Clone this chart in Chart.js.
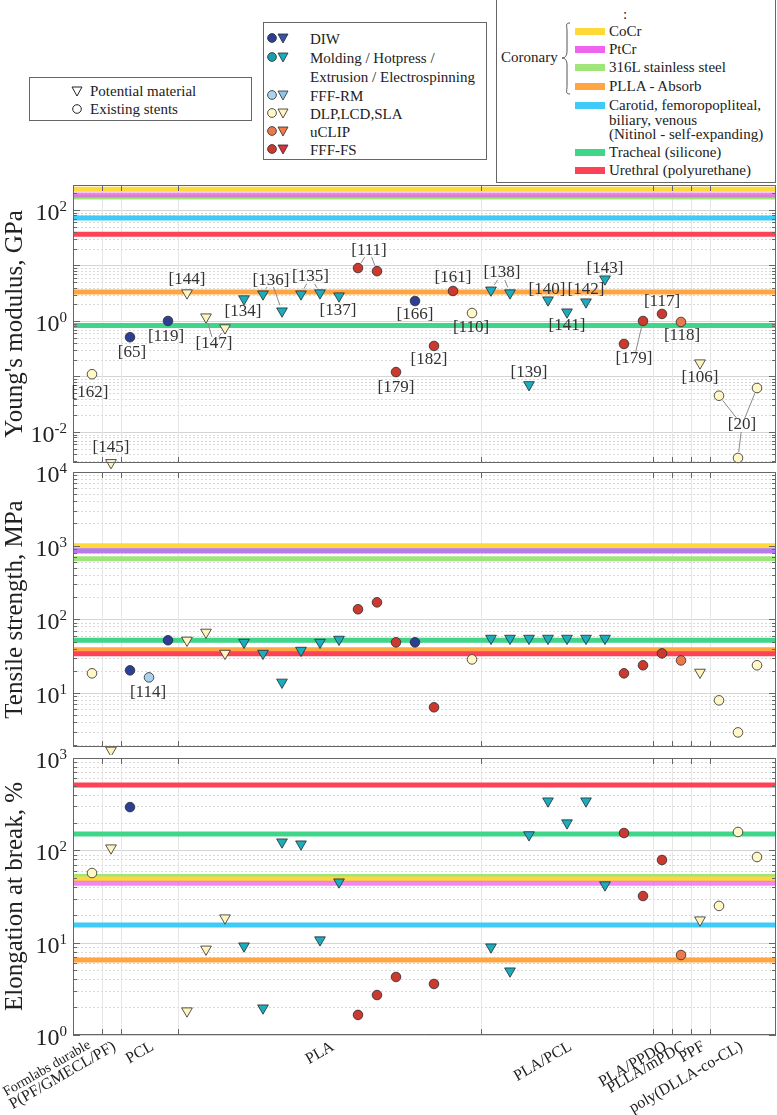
<!DOCTYPE html>
<html>
<head>
<meta charset="utf-8">
<script src="https://cdn.jsdelivr.net/npm/chart.js@4.4.1/dist/chart.umd.min.js"></script>
<style>
body { margin: 0; background: #fff; }
#page { position: relative; width: 777px; height: 1115px; overflow: hidden; font-family: "Liberation Serif", "Times New Roman", serif; color: #222; }
canvas { position: absolute; left: 0; }
.box { position: absolute; border: 1px solid #666; background: #fff; box-sizing: border-box; }
.t { position: absolute; font-size: 15px; line-height: 16px; white-space: nowrap; }
.sw { position: absolute; width: 30px; height: 7px; }
svg { position: absolute; overflow: visible; }
</style>
</head>
<body>
<div id="page">
  <div class="box" style="left:29px;top:77px;width:223px;height:44px"></div>
  <div class="box" style="left:263px;top:22px;width:224px;height:138px"></div>
  <div class="box" style="left:496px;top:-1px;width:280px;height:184px"></div>
  <canvas id="c1"></canvas>
  <canvas id="c2"></canvas>
  <canvas id="c3"></canvas>
</div>
<script>
const serif = '"Liberation Serif", "Times New Roman", serif'

// x categories (material groups) and how many points each holds
const groups = ["Formlabs durable", "P(PF/GMECL/PF)", "PCL", "PLA", "PLA/PCL", "PLA/PPDO", "PLLA/mPDC", "PPF", "poly(DLLA-co-CL)"]
const groupSize = [1, 1, 3, 16, 9, 1, 1, 1, 3]

// one entry per point position
const process = ["DLP", "DLP", "DIW", "FFF-RM", "DIW", "DLP", "DLP", "DLP",
  "Mold", "Mold", "Mold", "Mold", "Mold", "Mold",
  "FFF-FS", "FFF-FS", "FFF-FS", "DIW", "FFF-FS", "FFF-FS", "DLP",
  "Mold", "Mold", "Mold", "Mold", "Mold", "Mold", "Mold",
  "FFF-FS", "FFF-FS", "FFF-FS", "uCLIP", "DLP", "DLP", "DLP", "DLP"]
const shape = ["o", "v", "o", "o", "o", "v", "v", "v",
  "v", "v", "v", "v", "v", "v",
  "o", "o", "o", "o", "o", "o", "o",
  "v", "v", "v", "v", "v", "v", "v",
  "o", "o", "o", "o", "v", "o", "o", "o"]

const youngs = [0.11, 0.0028, 0.51, null, 1.0, 3.2, 1.18, 0.75,
  2.5, 3.06, 1.51, 3.06, 3.2, 2.82,
  9.0, 7.9, 0.12, 2.29, 0.355, 3.47, 1.39,
  3.6, 3.2, 0.071, 2.39, 1.45, 2.2, 5.7,
  0.385, 1.0, 1.34, 0.96, 0.175, 0.045, 0.0034, 0.062]
const tensile = [18.5, 1.67, 20.3, 16.3, 52, 52, 66.7, 34.5,
  48.7, 34.5, 14.0, 37.9, 48.7, 53.5,
  137, 170, 48.7, 48.7, 6.4, null, 28.6,
  55.2, 55.2, 55.2, 55.2, 55.2, 55.2, 55.2,
  18.5, 23.8, 34.5, 27.7, 19.1, 7.95, 2.92, 23.8]
const elongation = [56.8, 106, 294, null, null, 1.82, 8.5, 18.5,
  9.2, 1.96, 123, 117, 10.7, 45.4,
  1.65, 2.71, 4.25, null, 3.57, null, null,
  8.97, 4.93, 147, 342, 198, 342, 42.2,
  154, 32, 78.6, 7.35, 17.6, 25, 158, 84.7]

// reference stents (horizontal bands)
const stents = ["CoCr", "PtCr", "316L stainless steel", "PLLA - Absorb",
  "Carotid, femoropopliteal,\nbiliary, venous\n(Nitinol - self-expanding)", "Tracheal (silicone)", "Urethral (polyurethane)"]
const stentYoungs = [236, 186, 171, 3.33, 72, 0.83, 36.5]
const stentTensile = [1000, 850, 667, 38.8, 850, 52, 34.2]
const stentElong = [49, 44, 52, 6.5, 15.5, 150, 510]
const stentColor = ["#ffd83a", "rgba(236,86,236,0.7)", "#9fe57a", "#ffa541", "#3fcaf7", "#3fd68a", "#fd4256"]
const stentOrder = [15, 14, 19, 17, 20, 18, 16]

const processNames = ["DIW", "Molding / Hotpress /\nExtrusion  / Electrospinning", "FFF-RM", "DLP,LCD,SLA", "uCLIP", "FFF-FS"]
const processKeys = ["DIW", "Mold", "FFF-RM", "DLP", "uCLIP", "FFF-FS"]
const fillCircle = { "DIW": "#2c3f94", "Mold": "#1a9eaa", "FFF-RM": "#a9d2ee", "DLP": "#fff8c6", "uCLIP": "#ea7a4c", "FFF-FS": "#cc3a2f" }
const fillTri = { "DIW": "#3452a8", "Mold": "#1aadbf", "FFF-RM": "#8cc6e9", "DLP": "#fff4bd", "uCLIP": "#f07c48", "FFF-FS": "#dd2f3e" }

// reference labels: text, point indexes, offset from the points, leader lines
const notes1 = [
  ["[162]", [0], -2, 18], ["[145]", [1], 0, -15], ["[65]", [2], 2, 15], ["[119]", [4], -2, 16],
  ["[144]", [5], 0, -13], ["[147]", [6, 7], -1.5, 21.5, true], ["[134]", [8], -1, 13],
  ["[136]", [9, 10], -1.5, -22.5, true], ["[135]", [11, 12], 0, -16.5, true], ["[137]", [13], -1, 15],
  ["[111]", [14, 15], 1.5, -19.5, true], ["[179]", [16], 0, 15], ["[166]", [17], 0, 14],
  ["[182]", [18], -5, 14], ["[161]", [19], 0, -13], ["[110]", [20], -1, 14],
  ["[138]", [21, 22], 1.5, -18.5, true], ["[139]", [23], 0, -12], ["[140]", [24], -1, -10],
  ["[141]", [25], 0, 14], ["[142]", [26], 0, -12], ["[143]", [27], 0, -11],
  ["[179]", [29], -9, 38, true], ["[117]", [30], 0, -12], ["[118]", [31], 1, 14],
  ["[106]", [32], 0, 15], ["[20]", [33, 34, 35], 4, 11, true]
]
const notes2 = [["[114]", [3], -1, 15]]

// group boundaries and centres from the sizes
let boundaries = [], centers = [], start = 0
groupSize.forEach((n, k) => {
  centers.push(start + (n - 1) / 2)
  start += n
  if (k < groupSize.length - 1) boundaries.push(start - 0.5)
})
const xMin = -1, xMax = start

function logTicks(min, max) {
  let out = []
  for (let e = Math.floor(Math.log10(min)); e <= Math.ceil(Math.log10(max)); e++) {
    for (let m = 1; m < 10; m++) {
      let v = m * Math.pow(10, e)
      if (v >= min * 0.999 && v <= max * 1.001) out.push({ value: v })
    }
  }
  return out
}

function isDecade(v) {
  let l = Math.log10(v)
  return Math.abs(l - Math.round(l)) < 1e-6
}

function panelPlugin(p) {
  return {
    id: "panel" + p.id,
    beforeDatasetsDraw(chart) {
      let { ctx, chartArea: a, scales: { x, y } } = chart
      ctx.save()
      ctx.lineWidth = 1
      y.ticks.forEach(t => {
        let py = Math.round(y.getPixelForValue(t.value)) + 0.5
        let major = isDecade(t.value)
        ctx.strokeStyle = major ? "#d4d4d4" : "#d9d9d9"
        ctx.setLineDash(major ? [] : [2, 2])
        ctx.beginPath(); ctx.moveTo(a.left, py); ctx.lineTo(a.right, py); ctx.stroke()
      })
      ctx.setLineDash([])
      ctx.strokeStyle = "#e6e6e6"
      boundaries.forEach(b => {
        let px = Math.round(x.getPixelForValue(b)) + 0.5
        ctx.beginPath(); ctx.moveTo(px, a.top); ctx.lineTo(px, a.bottom); ctx.stroke()
      })
      ctx.restore()
    },
    afterDatasetsDraw(chart) {
      let { ctx, chartArea: a, scales: { x, y } } = chart
      ctx.save()
      ctx.strokeStyle = "#666"
      ctx.lineWidth = 1
      ctx.strokeRect(a.left + 0.5, a.top + 0.5, a.right - a.left - 1, a.bottom - a.top - 1)
      ctx.beginPath()
      y.ticks.forEach(t => {
        let py = Math.round(y.getPixelForValue(t.value)) + 0.5
        let len = isDecade(t.value) ? 7 : 4
        ctx.moveTo(a.left, py); ctx.lineTo(a.left + len, py)
        ctx.moveTo(a.right, py); ctx.lineTo(a.right - len, py)
      })
      boundaries.forEach(b => {
        let px = Math.round(x.getPixelForValue(b)) + 0.5
        ctx.moveTo(px, a.top); ctx.lineTo(px, a.top + 6)
        ctx.moveTo(px, a.bottom); ctx.lineTo(px, a.bottom - 6)
      })
      ctx.stroke()

      // decade labels 10^n
      ctx.fillStyle = "#222"
      ctx.textAlign = "right"
      ctx.textBaseline = "alphabetic"
      y.ticks.forEach(t => {
        if (!isDecade(t.value)) return
        let e = Math.round(Math.log10(t.value))
        if (e % p.labelStep) return
        let py = y.getPixelForValue(t.value)
        let right = a.left - 6
        ctx.font = "15px " + serif
        let ew = ctx.measureText(String(e)).width
        ctx.fillText(String(e), right, py + 1)
        ctx.font = "24px " + serif
        ctx.fillText("10", right - ew, py + 10)
      })

      // group names under the bottom panel, rotated 30 degrees
      if (p.xLabels) {
        ctx.textBaseline = "middle"
        centers.forEach((c, i) => {
          let px = x.getPixelForValue(c)
          ctx.save()
          ctx.translate(px + (i === 0 ? -2.5 : 3.5), a.bottom + (i === 0 ? 9 : 10.5))
          ctx.rotate(-Math.PI / 6)
          ctx.font = (i === 0 ? 14 : 16) + "px " + serif
          ctx.fillText(groups[i], 0, 0)
          ctx.restore()
        })
      }

      // reference labels
      ctx.font = "17px " + serif
      ctx.textAlign = "center"
      ctx.textBaseline = "middle"
      ctx.fillStyle = "#333"
      ctx.strokeStyle = "#8a8a8a"
      p.notes.forEach(n => {
        let pts = n[1].map(i => ({ x: x.getPixelForValue(i), y: y.getPixelForValue(p.values[i]) }))
        let cx = pts.reduce((s, q) => s + q.x, 0) / pts.length + n[2]
        let cy = pts.reduce((s, q) => s + q.y, 0) / pts.length + n[3]
        ctx.fillText(n[0], cx, cy)
        if (!n[4]) return
        let hw = ctx.measureText(n[0]).width / 2 + 1, hh = 7
        pts.forEach(q => {
          let dx = q.x - cx, dy = q.y - cy
          let len = Math.hypot(dx, dy)
          let tt = Math.min(hw / Math.max(Math.abs(dx), 1e-6), hh / Math.max(Math.abs(dy), 1e-6))
          if (len * (1 - tt) < 7) return
          ctx.beginPath()
          ctx.moveTo(cx + dx * tt, cy + dy * tt)
          ctx.lineTo(q.x - dx / len * 6, q.y - dy / len * 6)
          ctx.stroke()
        })
      })
      ctx.restore()
    }
  }
}

function makePanel(p) {
  let cv = document.getElementById(p.id)
  cv.width = 777
  cv.height = p.height
  cv.style.top = p.top + "px"

  let pts = []
  p.values.forEach((v, i) => { if (v !== null) pts.push({ x: i, y: v }) })
  let tri = c => c.raw && shape[c.raw.x] === "v"

  let datasets = [{
    data: pts,
    order: 0,
    clip: false,
    pointStyle: c => tri(c) ? "triangle" : "circle",
    pointRotation: c => tri(c) ? 180 : 0,
    pointRadius: c => tri(c) ? 6.2 : 4.8,
    pointBackgroundColor: c => c.raw ? (tri(c) ? fillTri : fillCircle)[process[c.raw.x]] : "#fff",
    pointBorderColor: "#2a2a2a",
    pointBorderWidth: 0.8
  }]
  p.lines.forEach((v, k) => {
    datasets.push({
      data: [{ x: xMin, y: v }, { x: xMax, y: v }],
      showLine: true,
      borderColor: stentColor[k],
      borderWidth: 5,
      pointRadius: 0,
      order: stentOrder[k]
    })
  })

  new Chart(cv, {
    type: "scatter",
    data: { datasets: datasets },
    options: {
      responsive: false,
      animation: false,
      events: [],
      layout: { autoPadding: false, padding: { top: p.padTop, bottom: p.padBottom, left: 0, right: 1 } },
      plugins: { legend: { display: false }, tooltip: { enabled: false } },
      scales: {
        x: {
          type: "linear",
          min: xMin,
          max: xMax,
          grid: { display: false, drawTicks: false },
          border: { display: false },
          ticks: { display: false },
          afterFit: s => { s.height = p.xLabels ? 80 : 0 }
        },
        y: {
          type: "logarithmic",
          min: p.min,
          max: p.max,
          grid: { display: false, drawTicks: false },
          border: { display: false },
          ticks: { display: false },
          afterBuildTicks: s => { s.ticks = logTicks(p.min, p.max) },
          afterFit: s => { s.width = 73 },
          title: { display: true, text: p.title, color: "#222", padding: 0, font: { family: serif, size: 25 } }
        }
      }
    },
    plugins: [panelPlugin(p)]
  })
}

makePanel({ id: "c1", top: 180, height: 290, padTop: 5, padBottom: 7, title: "Young's modulus, GPa",
  values: youngs, lines: stentYoungs, min: 0.00276, max: 282, labelStep: 2, notes: notes1, xLabels: false })
makePanel({ id: "c2", top: 455, height: 300, padTop: 17, padBottom: 8, title: "Tensile strength, MPa",
  values: tensile, lines: stentTensile, min: 1.85, max: 10000, labelStep: 1, notes: notes2, xLabels: false })
makePanel({ id: "c3", top: 745, height: 370, padTop: 13, padBottom: 0, title: "Elongation at break, %",
  values: elongation, lines: stentElong, min: 1, max: 1000, labelStep: 1, notes: [], xLabels: true })

// legends
let page = document.getElementById("page")
function addText(txt, left, top, extra) {
  let d = document.createElement("div")
  d.className = "t"
  d.style.left = left + "px"
  d.style.top = top + "px"
  d.innerHTML = txt.split("\n").join("<br>")
  if (extra) Object.assign(d.style, extra)
  page.appendChild(d)
}
function addSvg(html, left, top) {
  let s = document.createElementNS("http://www.w3.org/2000/svg", "svg")
  s.setAttribute("width", 1)
  s.setAttribute("height", 1)
  s.style.left = left + "px"
  s.style.top = top + "px"
  s.innerHTML = html
  page.appendChild(s)
}

// marker type legend
addSvg('<path d="M-5,-4 L5,-4 L0,5 Z" fill="none" stroke="#222" stroke-width="1"/>', 77, 91)
addText("Potential material", 90, 83)
addSvg('<circle r="4.3" fill="none" stroke="#222" stroke-width="1"/>', 77, 109)
addText("Existing stents", 90, 101)

// process legend
const procRows = [38, 57, 95, 113, 131, 149]
processKeys.forEach((k, i) => {
  let cy = procRows[i]
  addSvg('<circle cx="0" cy="0" r="4.4" fill="' + fillCircle[k] + '" stroke="#2a2a2a" stroke-width="0.8"/>' +
    '<path d="M6,-4 L16,-4 L11,5 Z" fill="' + fillTri[k] + '" stroke="#2a2a2a" stroke-width="0.8"/>', 272, cy)
  addText(processNames[i], 310, cy - 8, { lineHeight: "19px" })
})

// stent legend
addText(":", 623, 6)
addText("Coronary", 501, 49)
addSvg('<path d="M8,0 C3,0 5,3 5,8 L5,28 C5,33 3,35 0,35 C3,35 5,37 5,42 L5,63 C5,68 3,71 8,71" fill="none" stroke="#555" stroke-width="1"/>', 562, 23)
const stentRows = [32, 50, 68, 87, 106, 153, 171]
stents.forEach((s, k) => {
  let cy = stentRows[k]
  let sw = document.createElement("div")
  sw.className = "sw"
  sw.style.left = "575px"
  sw.style.top = (cy - 4) + "px"
  sw.style.background = k === 1 ? "#f062f0" : stentColor[k]
  page.appendChild(sw)
  addText(s, 609, cy - 8, { lineHeight: "14.5px" })
})
</script>
</body>
</html>
